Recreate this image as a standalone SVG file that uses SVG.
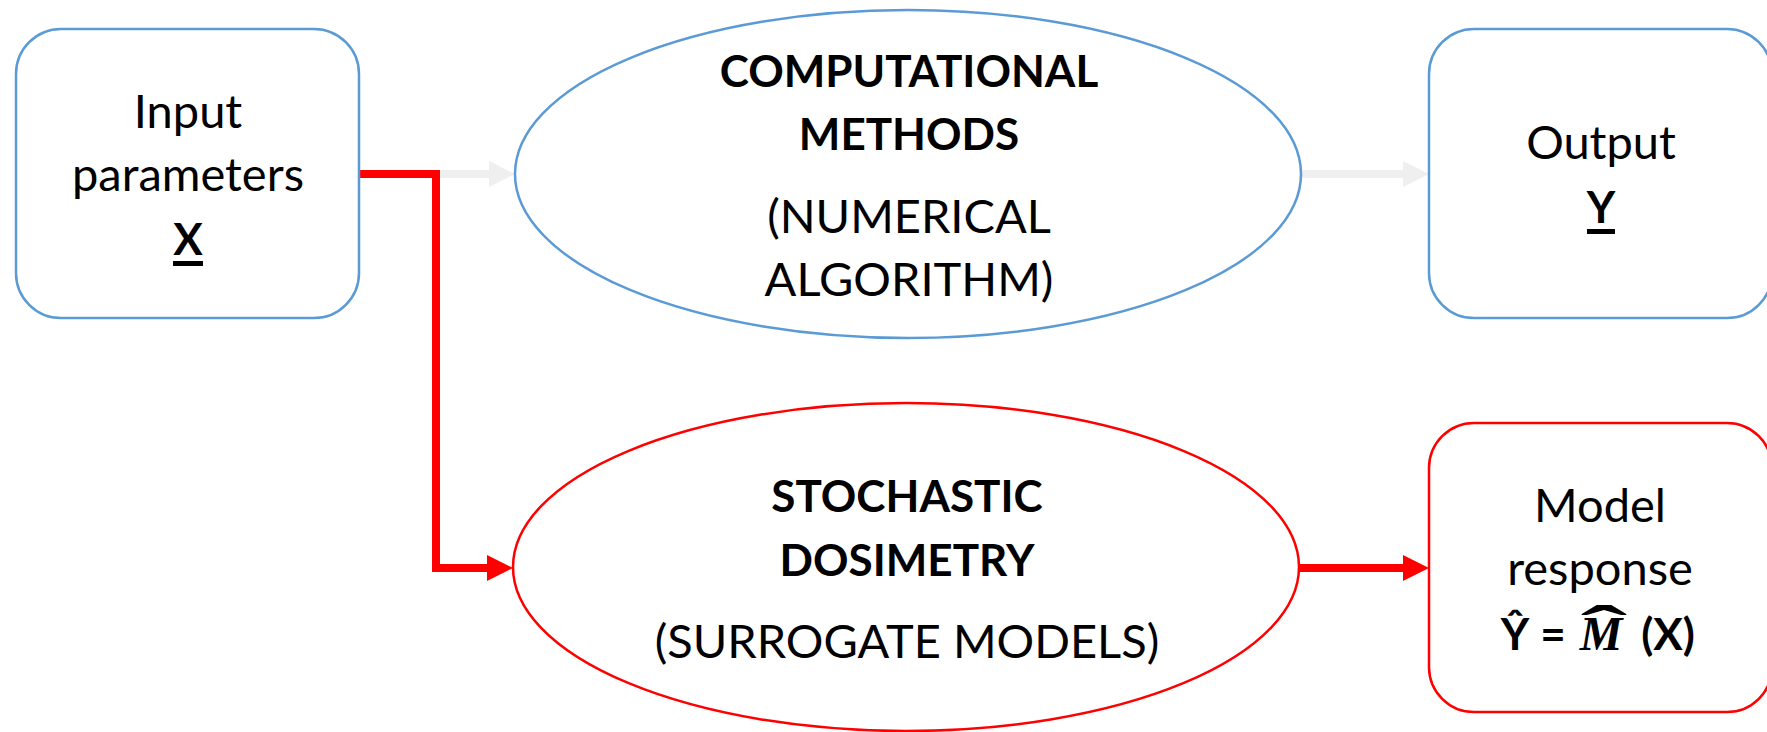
<svg xmlns="http://www.w3.org/2000/svg" width="1767" height="732" viewBox="0 0 1767 732">
  <style>
    .box-blue { fill: #ffffff; stroke: #5b9bd5; stroke-width: 2.5; }
    .box-red { fill: #ffffff; stroke: #ff0000; stroke-width: 2.5; }
    .t { font-family: Lato, "Open Sans", "Liberation Sans", sans-serif; fill: #000000; text-anchor: middle; }
    .reg { font-size: 47px; font-weight: 400; }
    .bold { font-size: 44px; font-weight: 700; }
    .math { font-family: "Liberation Serif", "DejaVu Serif", serif; font-weight: 700; fill: #000000; }
    .rule { fill: #000000; }
    .link-gray { fill: none; stroke: #efefef; stroke-width: 8; }
    .link-red { fill: none; stroke: #ff0000; stroke-width: 8; stroke-linejoin: miter; }
  </style>
  <defs>
    <marker id="head-gray" markerUnits="userSpaceOnUse" markerWidth="26" markerHeight="26" refX="2" refY="13" orient="auto">
      <path d="M0,0 L26,13 L0,26 z" fill="#efefef"/>
    </marker>
    <marker id="head-red" markerUnits="userSpaceOnUse" markerWidth="26" markerHeight="26" refX="2" refY="13" orient="auto">
      <path d="M0,0 L26,13 L0,26 z" fill="#ff0000"/>
    </marker>
  </defs>

  <rect width="1767" height="732" fill="#ffffff"/>

  <!-- connectors -->
  <g id="connectors">
    <path class="link-gray" d="M359,174 H491" marker-end="url(#head-gray)"/>
    <path class="link-gray" d="M1301,174 H1405" marker-end="url(#head-gray)"/>
    <path class="link-red" d="M359,174 H436 V568 H489" marker-end="url(#head-red)"/>
    <path class="link-red" d="M1299,568 H1405" marker-end="url(#head-red)"/>
  </g>

  <!-- input parameters -->
  <g id="input">
    <rect class="box-blue" x="16" y="29" width="343" height="289" rx="45" ry="45"/>
    <text class="t reg" x="188" y="128">Input</text>
    <text class="t reg" x="188" y="191">parameters</text>
    <text class="t bold" x="188" y="255">X</text>
    <rect class="rule" x="173" y="261" width="30" height="5"/>
  </g>

  <!-- deterministic solver -->
  <g id="computational">
    <ellipse class="box-blue" cx="908" cy="174" rx="393" ry="164"/>
    <text class="t bold" x="909" y="87">COMPUTATIONAL</text>
    <text class="t bold" x="909" y="150">METHODS</text>
    <text class="t reg" x="909" y="233">(NUMERICAL</text>
    <text class="t reg" x="909" y="296">ALGORITHM)</text>
  </g>

  <!-- output -->
  <g id="output">
    <rect class="box-blue" x="1429" y="29" width="343" height="289" rx="45" ry="45"/>
    <text class="t reg" x="1601" y="159">Output</text>
    <text class="t bold" x="1601" y="223">Y</text>
    <rect class="rule" x="1587" y="229" width="28" height="5"/>
  </g>

  <!-- surrogate -->
  <g id="stochastic">
    <ellipse class="box-red" cx="906" cy="567" rx="393" ry="164"/>
    <text class="t bold" x="907" y="512">STOCHASTIC</text>
    <text class="t bold" x="907" y="576">DOSIMETRY</text>
    <text class="t reg" x="907" y="658">(SURROGATE MODELS)</text>
  </g>

  <!-- model response -->
  <g id="response">
    <rect class="box-red" x="1429" y="423" width="343" height="289" rx="45" ry="45"/>
    <text class="t reg" x="1600" y="522">Model</text>
    <text class="t reg" x="1600" y="585">response</text>
    <text class="t bold" x="1515" y="650">Ŷ</text>
    <text class="t bold" x="1553" y="650">=</text>
    <text class="math" x="1601" y="650" font-size="48" font-style="italic" text-anchor="middle">M</text>
    <!-- wide hat over the estimator -->
    <text class="math" x="0" y="0" font-size="64" text-anchor="middle" transform="translate(1604,650) scale(2.2,1)">ˆ</text>
    <text class="t bold" x="1668" y="650">(X)</text>
  </g>
</svg>
